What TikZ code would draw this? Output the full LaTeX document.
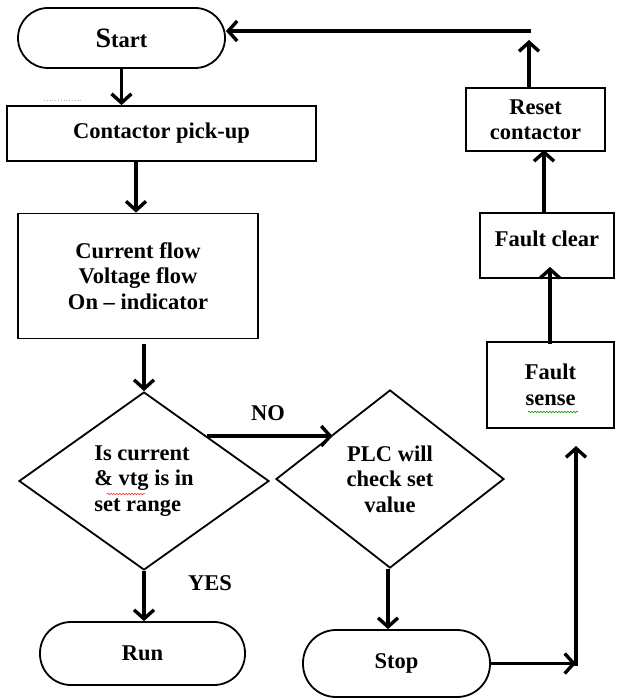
\documentclass[tikz,border=0pt]{standalone}
\usepackage{fontspec}
\setmainfont{Liberation Serif}
\usetikzlibrary{shapes.geometric,arrows.meta,decorations.pathmorphing}
\begin{document}
\begin{tikzpicture}[x=1pt,y=-1pt,
  txt/.style={font=\bfseries\fontsize{22.5}{25.5}\selectfont},
  box/.style={txt,draw,line width=1.8pt,align=center,inner sep=0pt},
  term/.style={box,rounded corners=#1},
  dia/.style={txt,draw,diamond,line width=1.8pt,inner sep=0pt},
  arr/.style={line width=3.4pt,-{Straight Barb[length=9pt,width=20pt]}},
  lbl/.style={txt,inner sep=0pt}]
\useasboundingbox (0,0) rectangle (616,700);
% nodes
\node[term=30pt,minimum width=207pt,minimum height=60pt] (start) at (121.5,38) {{\fontsize{28}{28}\selectfont S}tart};
\node[box,minimum width=309pt,minimum height=55pt] (contactor) at (161.5,133.5) {Contactor pick-up};
\node[box,minimum width=240pt,minimum height=125pt] (current) at (138,276) {Current flow\\Voltage flow\\On -- indicator};
\node[dia,minimum width=250pt,minimum height=178pt,align=left] (d1) at (144,481) {Is current\\\& vtg is in\\set range};
\node[dia,minimum width=228pt,minimum height=178pt,align=center] (d2) at (390,479) {PLC will\\check set\\value};
\node[term=31pt,minimum width=205pt,minimum height=63pt] (run) at (142.5,653.5) {Run};
\node[term=33pt,minimum width=187pt,minimum height=67pt] (stop) at (396.5,663.5) {Stop};
\node[box,minimum width=127pt,minimum height=86pt] (fsense) at (550.5,385) {Fault\\sense};
\node[box,minimum width=134pt,minimum height=65pt,text height=34pt,text depth=31pt] (fclear) at (547,245.5) {Fault clear};
\node[box,minimum width=139pt,minimum height=63pt] (reset) at (535.5,119.5) {Reset\\contactor};
\node[lbl] (no) at (268,413) {NO};
\node[lbl] (yes) at (210,583) {YES};
% spell-check marks
\draw[gray!60,line width=0.8pt,dotted] (44,100) -- (83,100);
\draw[red!80,line width=0.6pt,decorate,decoration={snake,amplitude=0.8pt,segment length=3pt}] (107,494) -- (145,494);
\draw[green!60!black,line width=0.6pt,decorate,decoration={snake,amplitude=0.8pt,segment length=3pt}] (528,412) -- (578,412);
% coordinates
\coordinate (j) at (576,666);
\coordinate (fsin) at (576,446);
\coordinate (top) at (531,31);
\coordinate (up) at (529,40);
% connectors
\draw[arr] (start.south) -- (start.south |- contactor.north);
\draw[arr] (contactor.south -| 136,0) -- (current.north -| 136,0);
\draw[arr] ([yshift=-5pt]current.south -| d1.north) -- (d1.north);
\draw[arr] (d1.north east) -- (d1.north east -| d2.north west);
\draw[arr] (d1.south) -- (d1.south |- run.north);
\draw[arr] (d2.south -| 388,0) -- (stop.north -| 388,0);
\draw[arr] (stop.east) -- (stop.east -| j);
\draw[arr] (j) -- (fsin);
\draw[arr] ([yshift=-3pt]fsense.north -| 550,0) -- ([yshift=12pt]fclear.south -| 550,0);
\draw[arr] (fclear.north -| 544,0) -- ([yshift=2pt]reset.south -| 544,0);
\draw[arr] (reset.north -| up) -- (up);
\draw[arr] (top) -- (start.east |- top);
\end{tikzpicture}
\end{document}
